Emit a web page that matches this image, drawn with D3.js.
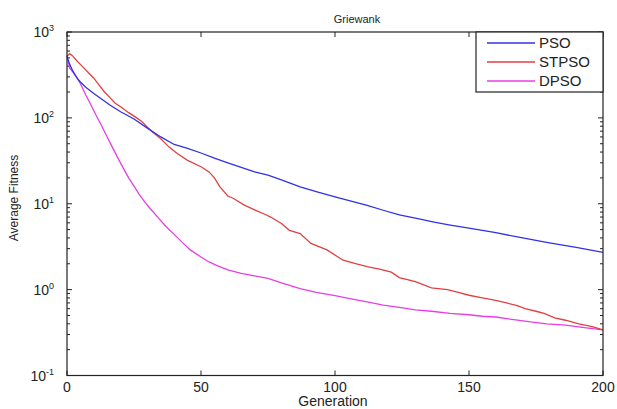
<!DOCTYPE html>
<html>
<head>
<meta charset="utf-8">
<script src="https://d3js.org/d3.v7.min.js"></script>
<style>
body { margin: 0; background: #fff; }
text { font-family: "Liberation Sans", Arial, sans-serif; fill: #222; }
</style>
</head>
<body>
<svg width="617" height="409"></svg>
<script>
// generations and average fitness
var psoGen = [0, 1, 2, 3, 4, 5, 7, 10, 13, 16, 20, 25, 30, 35, 40, 45, 50, 55, 60, 65, 70, 75, 80, 87, 93, 100, 106, 112, 118, 124, 130, 137, 143, 150, 160, 170, 180, 190, 200];
var psoVal = [520, 420, 360, 315, 285, 262, 228, 192, 165, 141, 118, 97, 76, 60, 49, 44, 39, 34, 30, 26.5, 23.5, 21.5, 19, 15.7, 13.8, 12, 10.7, 9.6, 8.4, 7.4, 6.8, 6.1, 5.65, 5.2, 4.6, 4.0, 3.5, 3.1, 2.72];

var stpsoGen = [0, 1, 2, 4, 6, 8, 10, 12, 14, 16, 18, 20, 23, 26, 28, 30, 32, 35, 38, 41, 45, 50, 53, 55, 57, 60, 62, 66, 70, 74, 76, 80, 83, 87, 91, 97, 103, 108, 112, 117, 121, 124, 130, 136, 142, 146, 150, 155, 160, 164, 168, 171, 175, 178, 182, 186, 191, 196, 200];
var stpsoVal = [520, 560, 530, 450, 390, 335, 290, 240, 200, 172, 148, 135, 115, 100, 90, 78, 68, 57, 46, 38.7, 32, 27, 23.5, 20, 15.8, 12.3, 11.6, 9.7, 8.5, 7.5, 7.0, 5.9, 4.9, 4.5, 3.45, 2.9, 2.2, 2.0, 1.85, 1.72, 1.6, 1.38, 1.24, 1.05, 1.0, 0.93, 0.86, 0.80, 0.75, 0.70, 0.65, 0.60, 0.56, 0.53, 0.47, 0.44, 0.40, 0.37, 0.34];

var dpsoGen = [0, 1, 3, 5, 7, 9, 11, 13, 15, 17, 19, 21, 23, 25, 27, 29, 31, 34, 37, 40, 43, 46, 50, 53, 56, 60, 65, 70, 75, 80, 87, 93, 100, 106, 112, 118, 124, 130, 136, 143, 150, 155, 160, 166, 173, 179, 186, 193, 200];
var dpsoVal = [540, 380, 320, 250, 185, 140, 105, 80, 60, 45, 34, 26, 20, 16, 12.8, 10.5, 8.8, 6.9, 5.4, 4.4, 3.55, 2.9, 2.4, 2.1, 1.9, 1.7, 1.55, 1.45, 1.35, 1.2, 1.03, 0.93, 0.85, 0.78, 0.72, 0.66, 0.62, 0.58, 0.56, 0.53, 0.51, 0.49, 0.48, 0.45, 0.42, 0.40, 0.385, 0.36, 0.34];

var seriesNames = ["PSO", "STPSO", "DPSO"];
var seriesColors = ["#3030e6", "#e24040", "#e63ee6"];
var xTicks = [0, 50, 100, 150, 200];
var yExps = [-1, 0, 1, 2, 3];

var svg = d3.select("svg"),
    width = +svg.attr("width"),
    height = +svg.attr("height");

var plotL = 67, plotR = 603, plotT = 32, plotB = 375.5;

var x = d3.scaleLinear().domain([0, 200]).range([plotL, plotR]);
var y = d3.scaleLog().domain([0.1, 1000]).range([plotB, plotT]);

svg.append("rect").attr("width", width).attr("height", height).style("fill", "#fff");

// minor log ticks
var minor = [];
yExps.slice(0, -1).forEach(function(e) {
    for (var k = 2; k <= 9; k++) minor.push(k * Math.pow(10, e));
});

var tickG = svg.append("g").style("stroke", "#222").style("stroke-width", 1);
xTicks.forEach(function(t) {
    tickG.append("line").attr("x1", x(t)).attr("x2", x(t)).attr("y1", plotB).attr("y2", plotB - 5);
    tickG.append("line").attr("x1", x(t)).attr("x2", x(t)).attr("y1", plotT).attr("y2", plotT + 5);
});
yExps.forEach(function(e) {
    var v = Math.pow(10, e);
    tickG.append("line").attr("x1", plotL).attr("x2", plotL + 5).attr("y1", y(v)).attr("y2", y(v));
    tickG.append("line").attr("x1", plotR).attr("x2", plotR - 5).attr("y1", y(v)).attr("y2", y(v));
});
minor.forEach(function(v) {
    tickG.append("line").attr("x1", plotL).attr("x2", plotL + 3).attr("y1", y(v)).attr("y2", y(v));
    tickG.append("line").attr("x1", plotR).attr("x2", plotR - 3).attr("y1", y(v)).attr("y2", y(v));
});

var line = d3.line()
    .x(function(d) { return x(d[0]); })
    .y(function(d) { return y(d[1]); });

var series = [
    d3.zip(psoGen, psoVal),
    d3.zip(stpsoGen, stpsoVal),
    d3.zip(dpsoGen, dpsoVal)
];

// draw DPSO first, PSO on top
[2, 1, 0].forEach(function(i) {
    svg.append("path")
        .datum(series[i])
        .attr("d", line)
        .style("fill", "none")
        .style("stroke", seriesColors[i])
        .style("stroke-width", 1.3);
});

svg.append("rect")
    .attr("x", plotL).attr("y", plotT)
    .attr("width", plotR - plotL).attr("height", plotB - plotT)
    .style("fill", "none").style("stroke", "#222").style("stroke-width", 1.2);

// tick labels
xTicks.forEach(function(t) {
    svg.append("text").attr("x", x(t)).attr("y", plotB + 16)
        .attr("text-anchor", "middle").style("font-size", "14px").text(t);
});
yExps.forEach(function(e) {
    var lab = svg.append("text").attr("x", 54).attr("y", y(Math.pow(10, e)) + 5)
        .attr("text-anchor", "end").style("font-size", "14px");
    lab.append("tspan").text("10");
    lab.append("tspan").attr("dy", -6).style("font-size", "9px").text(e);
});

svg.append("text").attr("x", 357).attr("y", 23).attr("text-anchor", "middle")
    .style("font-size", "11px").text("Griewank");
svg.append("text").attr("x", 333).attr("y", 406).attr("text-anchor", "middle")
    .style("font-size", "14px").text("Generation");
svg.append("text").attr("transform", "translate(18,198) rotate(-90)").attr("text-anchor", "middle")
    .style("font-size", "12px").text("Average Fitness");

// legend
var legend = svg.append("g");
legend.append("rect").attr("x", 476).attr("y", plotT).attr("width", plotR - 476).attr("height", 60)
    .style("fill", "#fff").style("stroke", "#222").style("stroke-width", 1.2);
seriesNames.forEach(function(n, i) {
    var ly = 43 + i * 19;
    legend.append("line").attr("x1", 487).attr("x2", 535).attr("y1", ly).attr("y2", ly)
        .style("stroke", seriesColors[i]).style("stroke-width", 1.3);
    legend.append("text").attr("x", 539).attr("y", ly + 5).style("font-size", "15px").text(n);
});
</script>
</body>
</html>
